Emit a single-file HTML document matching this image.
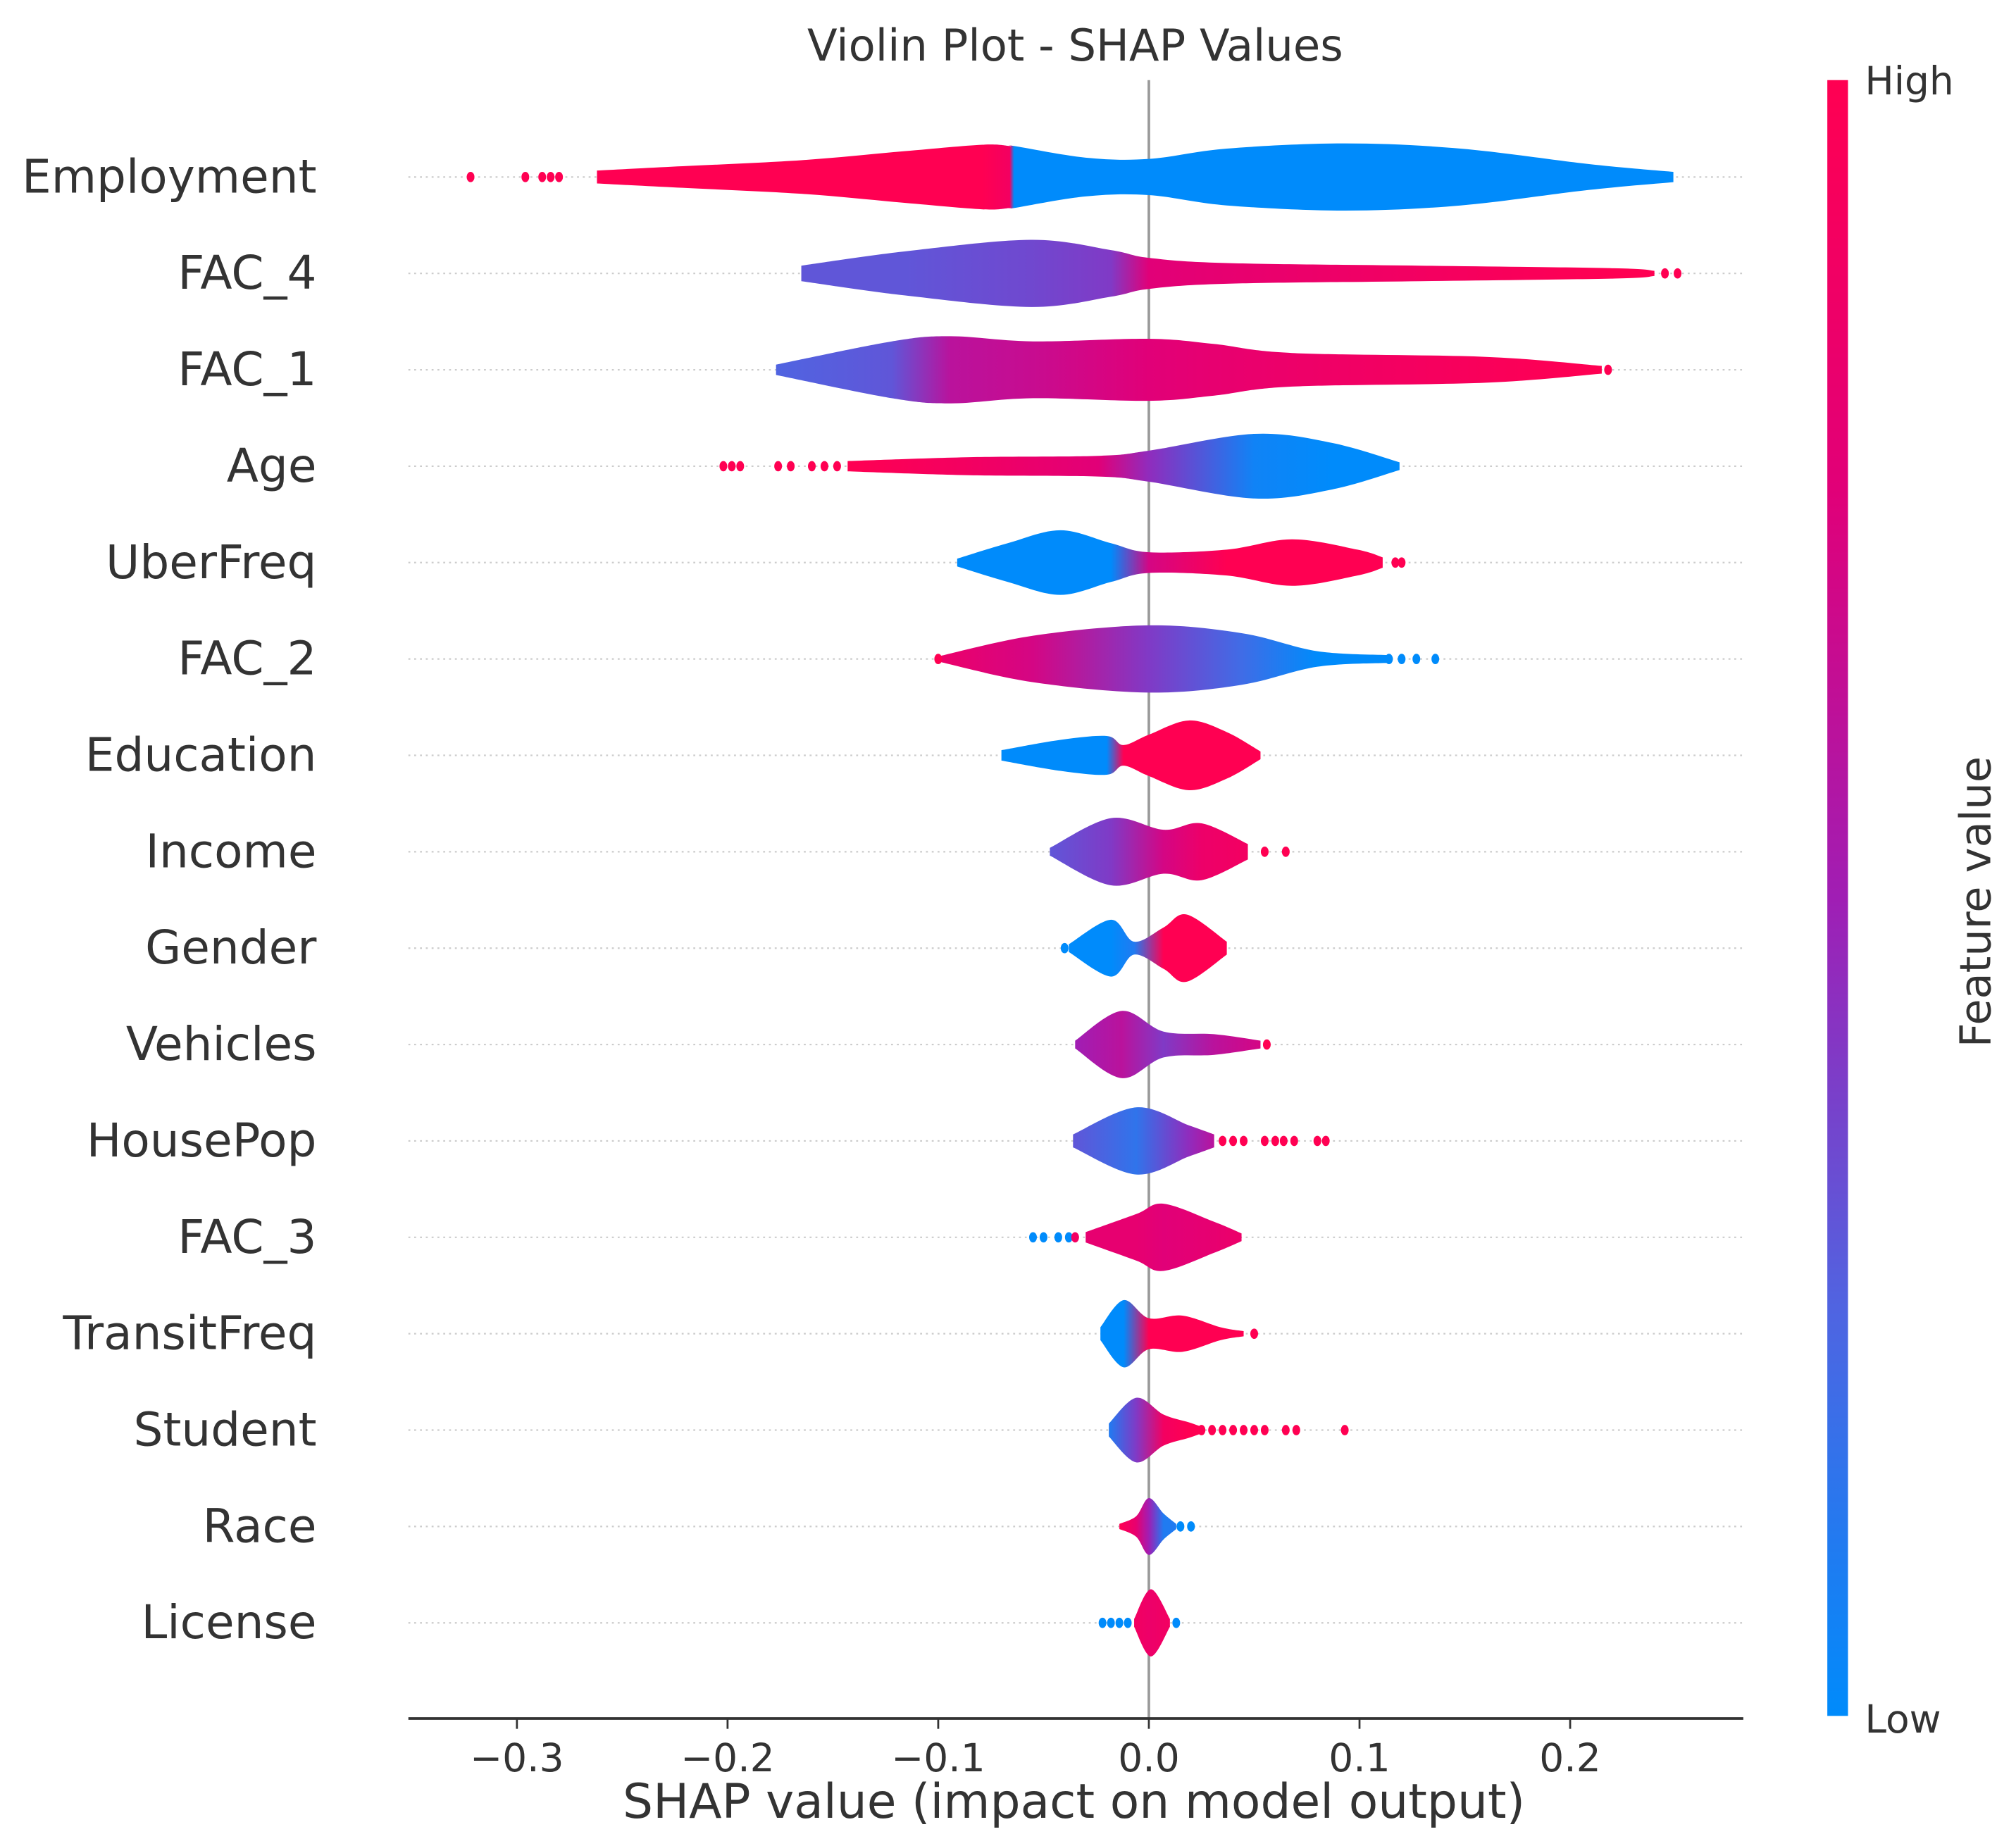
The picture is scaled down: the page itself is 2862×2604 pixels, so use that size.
<!DOCTYPE html>
<html><head><meta charset="utf-8"><style>
html,body{margin:0;padding:0;background:#fff}
svg{display:block}
text{font-family:"DejaVu Sans","Liberation Sans",sans-serif;fill:#333}
</style></head><body>
<svg id="chart" width="2862" height="2604" viewBox="0 0 1560 1419.4" preserveAspectRatio="none" xmlns="http://www.w3.org/2000/svg">
<defs id="defs">
<linearGradient id="cbar" x1="0" y1="1" x2="0" y2="0">
<stop offset="0" stop-color="#008bfb"/><stop offset="0.25" stop-color="#5064e1"/><stop offset="0.5" stop-color="#a01eb4"/><stop offset="0.75" stop-color="#e10078"/><stop offset="1" stop-color="#ff0052"/>
</linearGradient>
</defs>
<text x="832" y="47" font-size="34" text-anchor="middle">Violin Plot - SHAP Values</text>
<g id="rows"></g>
<line x1="889" y1="62" x2="889" y2="1330" stroke="#999" stroke-width="2"/>
<g id="violins"></g>
<line x1="316" y1="1330" x2="1349" y2="1330" stroke="#333" stroke-width="2"/>
<g id="xticks"></g>
<text x="831" y="1407" font-size="37" text-anchor="middle">SHAP value (impact on model output)</text>
<rect x="1414" y="62" width="16" height="1266" fill="url(#cbar)"/>
<text x="1443" y="73" font-size="30">High</text>
<text x="1443" y="1341" font-size="30">Low</text>
<text x="0" y="0" font-size="33" text-anchor="middle" transform="translate(1540,698) rotate(-90)">Feature value</text>
</svg>
<script>
const features = ["Employment","FAC_4","FAC_1","Age","UberFreq","FAC_2","Education","Income","Gender","Vehicles","HousePop","FAC_3","TransitFreq","Student","Race","License"];
const xTicks = [-0.3,-0.2,-0.1,0.0,0.1,0.2];
const xTickLabels = ["\u22120.3","\u22120.2","\u22120.1","0.0","0.1","0.2"];
const knotX = [
 [-0.262,-0.226,-0.165,-0.116,-0.079,-0.066,-0.064,-0.03,0,0.037,0.093,0.148,0.209,0.249],
 [-0.165,-0.116,-0.056,-0.018,0,0.037,0.129,0.221,0.24],
 [-0.177,-0.122,-0.094,-0.055,0,0.031,0.068,0.16,0.215],
 [-0.143,-0.085,-0.024,0,0.05,0.087,0.119],
 [-0.091,-0.067,-0.042,-0.018,0,0.037,0.068,0.099,0.111],
 [-0.1,-0.055,0,0.044,0.08,0.114],
 [-0.07,-0.042,-0.02,-0.012,0,0.019,0.037,0.053],
 [-0.047,-0.018,0.007,0.025,0.047],
 [-0.038,-0.018,-0.007,0.007,0.018,0.037],
 [-0.035,-0.013,0.007,0.031,0.053],
 [-0.036,-0.006,0.019,0.031],
 [-0.03,-0.006,0.007,0.031,0.044],
 [-0.023,-0.012,0,0.016,0.034,0.045],
 [-0.019,-0.006,0.007,0.019,0.026],
 [-0.014,-0.006,0,0.007,0.013],
 [-0.007,0.001,0.01]
];
const knotW = [
 [5,8,13,20,25,24,24,15,14,22,26,22,10,4],
 [6,17,26,18,12,8,6,4,2],
 [4,22,26,22,24,20,13,10,3],
 [4,7,8,12,25,18,3],
 [3,15,25,15,8,10,18,10,4],
 [2,18,26,20,6,3],
 [4,12,15,8,16,27,18,3],
 [3,26,17,22,6],
 [3,22,5,16,26,5],
 [3,26,10,8,3],
 [5,26,12,5],
 [4,18,26,12,3],
 [5,26,12,14,5,2],
 [5,25,12,6,2],
 [2,8,22,10,2],
 [3,26,3]
];
const knotC = [
 [1,1,1,1,1,0.9,0,0,0,0,0,0,0,0],
 [0.3,0.3,0.35,0.4,0.75,0.8,0.9,1,1],
 [0.25,0.3,0.6,0.65,0.75,0.8,0.85,0.95,1],
 [1,0.9,0.75,0.45,0.05,0,0],
 [0,0,0,0,0.7,1,1,1,1],
 [0.85,0.7,0.4,0.2,0,0],
 [0,0,0,1,1,1,1,1],
 [0.3,0.4,0.7,0.85,0.9],
 [0,0,0.1,1,1,1],
 [0.5,0.6,0.4,0.6,0.7],
 [0.3,0.15,0.45,0.6],
 [0.8,0.8,0.75,0.8,0.85],
 [0,0,1,1,1,1],
 [0.1,0.4,0.9,1,1],
 [1,0.8,0.5,0.1,0.1],
 [0.9,0.85,0.9]
];
const dotX = [
 [-0.322,-0.296,-0.288,-0.284,-0.280],
 [0.245,0.251],
 [0.218],
 [-0.202,-0.198,-0.194,-0.176,-0.17,-0.16,-0.154,-0.148],
 [0.117,0.12],
 [-0.1,0.114,0.12,0.127,0.136],
 [],
 [0.055,0.065],
 [-0.04],
 [0.056],
 [0.035,0.04,0.045,0.055,0.06,0.064,0.069,0.08,0.084],
 [-0.055,-0.05,-0.043,-0.038,-0.035],
 [0.05],
 [0.025,0.03,0.035,0.04,0.045,0.05,0.055,0.065,0.07,0.093],
 [0.015,0.02],
 [-0.022,-0.018,-0.014,-0.01,0.013]
];
const dotC = [
 [1,1,1,1,1],[1,1],[1],[1,1,1,1,1,1,1,1],[1,1],[1,0,0,0,0],[],[1,1],[0],[1],
 [1,1,1,1,1,1,1,1,1],[0,0,0,0,0.9],[1],[1,1,1,1,1,1,1,1,1,1],[0,0],[0,0,0,0,0]
];

const NS = "http://www.w3.org/2000/svg";
function xs(v){ return 889 + v*1630; }
function ys(i){ return 137 + i*74.6; }
function cmap(t){
  const st=[[0,0,139,251],[0.25,80,100,225],[0.5,160,30,180],[0.75,225,0,120],[1,255,0,82]];
  for(let k=1;k<st.length;k++){ if(t<=st[k][0]){ const a=st[k-1],b=st[k],f=(t-a[0])/(b[0]-a[0]);
    return "rgb("+[1,2,3].map(j=>Math.round(a[j]+(b[j]-a[j])*f)).join(",")+")"; } }
  return "rgb(255,0,82)";
}
function smooth(pts){
  let d="";
  for(let i=0;i<pts.length-1;i++){
    const p0=pts[Math.max(0,i-1)],p1=pts[i],p2=pts[i+1],p3=pts[Math.min(pts.length-1,i+2)];
    const c1=[p1[0]+(p2[0]-p0[0])/6,p1[1]+(p2[1]-p0[1])/6], c2=[p2[0]-(p3[0]-p1[0])/6,p2[1]-(p3[1]-p1[1])/6];
    d+=" C"+c1[0]+","+c1[1]+" "+c2[0]+","+c2[1]+" "+p2[0]+","+p2[1];
  }
  return d;
}
const rows=document.getElementById("rows"), vg=document.getElementById("violins"), defs=document.getElementById("defs");
features.forEach((f,i)=>{
  const y=ys(i);
  const ln=document.createElementNS(NS,"line");
  
  
  ln.setAttribute("x1",316);ln.setAttribute("x2",1349);ln.setAttribute("y1",y);ln.setAttribute("y2",y);
  ln.setAttribute("stroke","#ccc");ln.setAttribute("stroke-width","1.2");ln.setAttribute("stroke-dasharray","1.5 3");
  rows.appendChild(ln);
  const t=document.createElementNS(NS,"text");
  
  
  t.setAttribute("x",245);t.setAttribute("y",y+12);t.setAttribute("font-size","36");t.setAttribute("text-anchor","end");
  t.textContent=f; rows.appendChild(t);
  const kx=knotX[i],kw=knotW[i],kc=knotC[i];
  const x0=xs(kx[0]),x1=xs(kx[kx.length-1]);
  const g=document.createElementNS(NS,"linearGradient");
  g.setAttribute("id","g"+i);g.setAttribute("gradientUnits","userSpaceOnUse");
  g.setAttribute("x1",x0);g.setAttribute("x2",x1);g.setAttribute("y1",0);g.setAttribute("y2",0);
  kx.forEach((v,k)=>{const s=document.createElementNS(NS,"stop");
    s.setAttribute("offset",((xs(v)-x0)/(x1-x0)).toFixed(4));s.setAttribute("stop-color",cmap(kc[k]));g.appendChild(s);});
  defs.appendChild(g);
  const top=kx.map((v,k)=>[xs(v),y-kw[k]]), bot=kx.map((v,k)=>[xs(v),y+kw[k]]).reverse();
  let d="M"+top[0][0]+","+top[0][1]+smooth(top)+" L"+bot[0][0]+","+bot[0][1]+smooth(bot)+" Z";
  const p=document.createElementNS(NS,"path");
  
  
  p.setAttribute("d",d);p.setAttribute("fill","url(#g"+i+")");
  vg.appendChild(p);
  dotX[i].forEach((v,k)=>{
    const c=document.createElementNS(NS,"ellipse");
    
    
    c.setAttribute("cx",xs(v));c.setAttribute("cy",y);c.setAttribute("rx",3);c.setAttribute("ry",4);
    c.setAttribute("fill",cmap(dotC[i][k])); vg.appendChild(c);
  });
});
const xt=document.getElementById("xticks");
xTicks.forEach((v,k)=>{
  const l=document.createElementNS(NS,"line");
  
  
  l.setAttribute("x1",xs(v));l.setAttribute("x2",xs(v));l.setAttribute("y1",1330);l.setAttribute("y2",1338);
  l.setAttribute("stroke","#333");l.setAttribute("stroke-width","1.5"); xt.appendChild(l);
  const t=document.createElementNS(NS,"text");
  
  
  t.setAttribute("x",xs(v));t.setAttribute("y",1371);t.setAttribute("font-size","30");t.setAttribute("text-anchor","middle");
  t.textContent=xTickLabels[k]; xt.appendChild(t);
});
</script>
</body></html>
